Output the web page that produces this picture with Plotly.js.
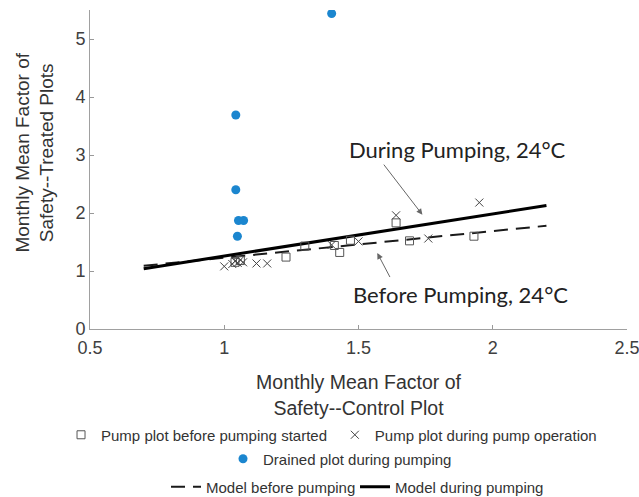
<!DOCTYPE html>
<html>
<head>
<meta charset="utf-8">
<script src="https://cdn.plot.ly/plotly-3.0.1.min.js"></script>
<style>html,body{margin:0;padding:0;background:#fff;}#chart{width:639px;height:497px;}</style>
</head>
<body>
<div id="chart"></div>
<script>
// Pump plot before pumping started (squares)
const beforeX = [1.04, 1.06, 1.23, 1.30, 1.41, 1.43, 1.47, 1.64, 1.69, 1.93];
const beforeY = [1.15, 1.18, 1.24, 1.43, 1.44, 1.32, 1.53, 1.83, 1.52, 1.60];
// Pump plot during pump operation (crosses)
const duringX = [1.00, 1.03, 1.04, 1.05, 1.06, 1.07, 1.12, 1.16, 1.40, 1.50, 1.64, 1.76, 1.95];
const duringY = [1.08, 1.12, 1.17, 1.14, 1.19, 1.15, 1.13, 1.13, 1.45, 1.51, 1.96, 1.56, 2.18];
// Drained plot during pumping (blue dots)
const drainedX = [1.043, 1.043, 1.053, 1.072, 1.049, 1.40];
const drainedY = [3.69, 2.40, 1.87, 1.87, 1.60, 5.44];
// Models
const modelBeforeX = [0.7, 2.2];
const modelBeforeY = [1.09, 1.78];
const modelDuringX = [0.7, 2.2];
const modelDuringY = [1.04, 2.13];

const xTicks = [0.5, 1, 1.5, 2, 2.5];
const xTickText = ['0.5', '1', '1.5', '2', '2.5'];
const yTicks = [0, 1, 2, 3, 4, 5];

const FONT = '"Liberation Sans", Arial, sans-serif';
const CAL = 'Lato, "Open Sans", sans-serif';

const traces = [
  {x: modelBeforeX, y: modelBeforeY, mode: 'lines', name: 'Model before pumping',
   line: {color: '#1a1a1a', width: 2, dash: '14px,8px'}, legend: 'legend3'},
  {x: modelDuringX, y: modelDuringY, mode: 'lines', name: 'Model during pumping',
   line: {color: '#000', width: 3}, legend: 'legend3'},
  {x: beforeX, y: beforeY, mode: 'markers', name: 'Pump plot before pumping started',
   marker: {symbol: 'square-open', size: 8, color: '#555', line: {width: 1, color: '#555'}}, legend: 'legend'},
  {x: duringX, y: duringY, mode: 'markers', name: 'Pump plot during pump operation',
   marker: {symbol: 'x-thin-open', size: 8, color: '#444', line: {width: 1, color: '#444'}}, legend: 'legend4'},
  {x: drainedX, y: drainedY, mode: 'markers', name: 'Drained plot during pumping',
   marker: {symbol: 'circle', size: 9, color: '#1b86cf'}, legend: 'legend2'}
];

const legendBase = {orientation: 'h', xanchor: 'left', yanchor: 'middle', xref: 'container', yref: 'container',
  bgcolor: 'rgba(0,0,0,0)', font: {family: FONT, size: 15, color: '#333'}, itemwidth: 30, tracegroupgap: 0};

const layout = {
  width: 639, height: 497,
  margin: {l: 90, r: 12, t: 10, b: 168, autoexpand: false},
  paper_bgcolor: '#fff', plot_bgcolor: '#fff',
  showlegend: true,
  xaxis: {range: [0.5, 2.5], tickvals: xTicks, ticktext: xTickText, ticks: 'inside', ticklen: 4,
    tickcolor: '#999', showline: true, linecolor: '#a0a0a0', linewidth: 1, showgrid: false, zeroline: false,
    tickfont: {family: FONT, size: 18, color: '#404040'}, ticklabelstandoff: 2, ticklabeloverflow: 'allow',
    title: {text: 'Monthly Mean Factor of<br>Safety--Control Plot', font: {family: FONT, size: 19.5, color: '#333'}, standoff: 25}},
  yaxis: {range: [0, 5.5], tickvals: yTicks, ticks: 'inside', ticklen: 4,
    tickcolor: '#999', showline: true, linecolor: '#a0a0a0', linewidth: 1, showgrid: false, zeroline: false,
    tickfont: {family: FONT, size: 18, color: '#404040'}},
  legend: Object.assign({}, legendBase, {x: 0.0955, y: 0.1247}),
  legend4: Object.assign({}, legendBase, {x: 0.524, y: 0.1247}),
  legend2: Object.assign({}, legendBase, {x: 0.349, y: 0.0765}),
  legend3: Object.assign({}, legendBase, {x: 0.2598, y: 0.0201, entrywidth: 144}),
  annotations: [
    {xref: 'paper', yref: 'paper', x: -0.103, y: 0.552, xanchor: 'center', yanchor: 'middle',
     textangle: -90, showarrow: false, text: 'Monthly Mean Factor of<br>Safety--Treated Plots',
     font: {family: FONT, size: 19, color: '#333'}},
    {xref: 'x', yref: 'y', x: 1.87, y: 3.09, showarrow: false, text: 'During Pumping, 24°C',
     font: {family: CAL, size: 22, color: '#222'}},
    {xref: 'x', yref: 'y', x: 1.88, y: 0.60, showarrow: false, text: 'Before Pumping, 24°C',
     font: {family: CAL, size: 22, color: '#222'}},
    {xref: 'x', yref: 'y', axref: 'x', ayref: 'y', x: 1.738, y: 1.97, ax: 1.59, ay: 2.86,
     text: '', showarrow: true, arrowhead: 2, arrowsize: 1.2, arrowwidth: 1, arrowcolor: '#666'},
    {xref: 'x', yref: 'y', axref: 'x', ayref: 'y', x: 1.57, y: 1.31, ax: 1.62, ay: 0.87,
     text: '', showarrow: true, arrowhead: 2, arrowsize: 1.2, arrowwidth: 1, arrowcolor: '#666'}
  ]
};

Plotly.newPlot('chart', traces, layout, {displayModeBar: false, staticPlot: true});
</script>
</body>
</html>
